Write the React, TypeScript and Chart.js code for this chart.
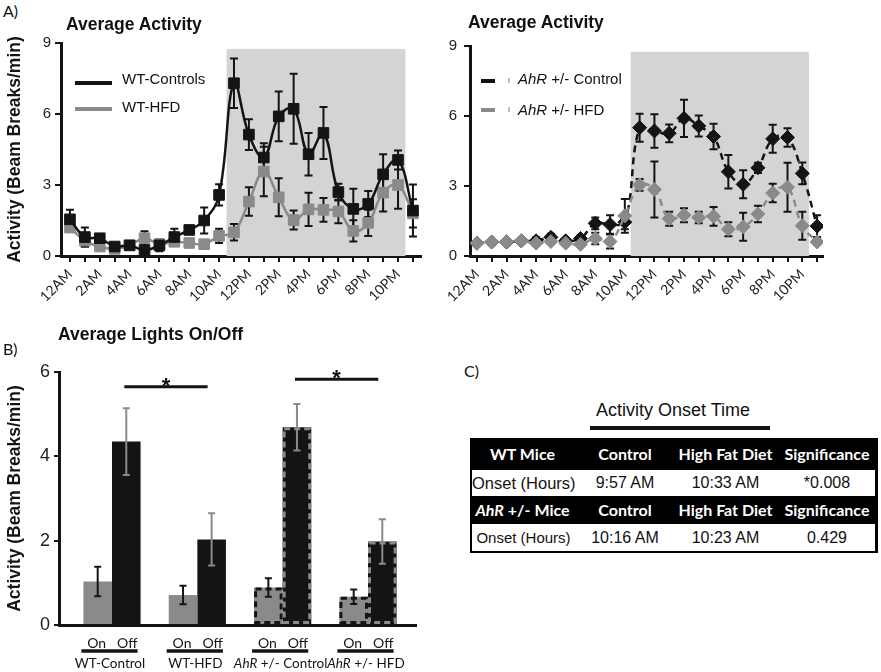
import React, { useEffect, useRef } from 'react';
import { Chart, registerables } from 'chart.js';
Chart.register(...registerables);

// ---------- DATA ----------
const HOUR_LABELS = ['12AM','1AM','2AM','3AM','4AM','5AM','6AM','7AM','8AM','9AM','10AM','11AM',
  '12PM','1PM','2PM','3PM','4PM','5PM','6PM','7PM','8PM','9PM','10PM','11PM'];

const WT_CONTROL = [1.55,0.8,0.75,0.4,0.45,0.25,0.45,0.8,1.1,1.5,2.58,7.3,5.13,4.16,5.9,6.22,4.3,5.2,2.7,1.99,2.2,3.45,4.06,1.92];
const WT_CONTROL_ERR = [0.4,0.4,0.12,0.1,0.1,0.15,0.25,0.35,0.15,0.55,0.45,1.05,0.65,0.6,1.05,1.48,0.9,1.1,0.35,0.85,0.55,0.85,0.4,1.1];
const WT_HFD = [1.2,0.65,0.4,0.3,0.45,0.75,0.5,0.6,0.55,0.5,0.85,1.0,2.3,3.57,2.48,1.52,1.97,1.95,1.88,1.06,1.4,2.68,3.0,1.8];
const WT_HFD_ERR = [0.1,0.25,0.1,0.1,0.1,0.3,0.15,0.15,0.15,0.1,0.3,0.35,0.6,1.05,0.8,0.4,0.7,0.5,0.5,0.45,0.55,0.8,1.0,0.6];

const AHR_CONTROL = [0.55,0.6,0.6,0.65,0.65,0.8,0.65,0.75,1.4,1.35,1.45,5.5,5.36,5.26,5.9,5.57,5.12,3.61,3.07,3.78,5.02,5.08,3.54,1.28];
const AHR_CONTROL_ERR = [0.08,0.08,0.08,0.1,0.15,0.15,0.1,0.12,0.25,0.4,0.3,0.6,0.72,0.38,0.8,0.45,0.55,0.72,0.6,0.22,0.6,0.4,0.47,0.47];
const AHR_HFD = [0.55,0.6,0.62,0.65,0.55,0.62,0.55,0.5,0.75,0.62,1.72,3.05,2.85,1.6,1.75,1.65,1.7,1.15,1.25,1.8,2.7,2.95,1.3,0.6];
const AHR_HFD_ERR = [0.05,0.05,0.05,0.05,0.1,0.1,0.08,0.08,0.25,0.3,0.72,0.25,1.2,0.3,0.3,0.25,0.4,0.3,0.6,0.35,0.4,1.05,0.6,0.08];

const LIGHTS_OFF_WT = [10.5, 22.5];
const LIGHTS_OFF_AHR = [10.4, 22.45];
const SHADE_TOP = 8.75;

const GROUP_LABELS = ['WT-Control','WT-HFD','AhR +/- Control','AhR +/- HFD'];
const ON_VALUES = [1.03,0.71,0.89,0.67];
const ON_ERR = [0.35,0.22,0.22,0.17];
const OFF_VALUES = [4.35,2.03,4.69,1.98];
const OFF_ERR = [0.79,0.62,0.55,0.53];
const SIG_LINES = [{ from: 0, to: 1, y: 5.65 }, { from: 2, to: 3, y: 5.83 }];

const TABLE_HEAD_WT = ['WT Mice','Control','High Fat Diet','Significance'];
const TABLE_ROW_WT = ['Onset (Hours)','9:57 AM','10:33 AM','*0.008'];
const TABLE_HEAD_AHR = ['AhR +/- Mice','Control','High Fat Diet','Significance'];
const TABLE_ROW_AHR = ['Onset (Hours)','10:16 AM','10:23 AM','0.429'];

// ---------- STYLE ----------
const BLACK = '#141414';
const GREY = '#8a8a8a';
const SHADE = '#d4d4d4';
const ARIAL = "'Liberation Sans', Arial, sans-serif";
const CALIBRI = "Lato, 'Open Sans', sans-serif";

function lineConfig(p: any) {
  const shadePlugin = {
    id: 'shade',
    beforeDatasetsDraw(chart: any) {
      const { ctx, scales: { x, y } } = chart;
      ctx.save();
      ctx.fillStyle = SHADE;
      const x0 = x.getPixelForValue(p.shade[0]);
      const x1 = x.getPixelForValue(p.shade[1]);
      const y0 = y.getPixelForValue(SHADE_TOP);
      const y1 = y.getPixelForValue(0);
      ctx.fillRect(x0, y0, x1 - x0, y1 - y0);
      // error bars (under the markers)
      ctx.strokeStyle = BLACK;
      ctx.lineWidth = 2;
      p.series.forEach((s: any) => {
        s.values.forEach((v: number, i: number) => {
          const e = s.err[i];
          const px = x.getPixelForValue(i);
          const t = y.getPixelForValue(v + e);
          const b = y.getPixelForValue(Math.max(v - e, 0));
          ctx.beginPath();
          ctx.moveTo(px, t); ctx.lineTo(px, b);
          ctx.moveTo(px - 4, t); ctx.lineTo(px + 4, t);
          ctx.moveTo(px - 4, b); ctx.lineTo(px + 4, b);
          ctx.stroke();
        });
      });
      ctx.restore();
    },
  };
  return {
    type: 'line',
    data: {
      datasets: p.series.map((s: any) => ({
        label: s.label,
        data: s.values.map((v: number, i: number) => ({ x: i, y: v })),
        borderColor: s.color,
        backgroundColor: s.color,
        pointBackgroundColor: s.color,
        pointBorderColor: s.color,
        pointBorderWidth: 1,
        pointStyle: p.pointStyle,
        pointRadius: p.radius,
        borderWidth: 2.5,
        borderDash: p.dash,
        tension: 0.4,
        order: s.order,
      })),
    },
    options: {
      responsive: false,
      animation: false,
      devicePixelRatio: 1,
      layout: { padding: p.padding },
      plugins: { legend: { display: false }, tooltip: { enabled: false }, title: { display: false } },
      scales: {
        x: {
          type: 'linear',
          offset: false,
          min: p.xMin,
          max: p.xMax,
          afterBuildTicks: (s: any) => { s.ticks = HOUR_LABELS.map((_, i) => ({ value: i })); },
          afterFit: (s: any) => { s.height = p.xHeight; },
          ticks: {
            autoSkip: false,
            maxRotation: 45,
            minRotation: 45,
            padding: 4,
            color: '#222',
            font: { family: CALIBRI, size: 14 },
            callback: (v: number) => (v % 2 === 0 ? HOUR_LABELS[v] : ''),
          },
          grid: { drawOnChartArea: false, drawTicks: true, tickLength: 6, color: BLACK, lineWidth: 2 },
          border: { display: true, width: 3, color: BLACK },
        },
        y: {
          min: 0,
          max: 9,
          afterFit: (s: any) => { s.width = p.yWidth; },
          ticks: { stepSize: 3, padding: p.yTickPad, color: '#222', font: { family: ARIAL, size: 15 } },
          grid: { drawOnChartArea: false, drawTicks: true, tickLength: 6, color: BLACK, lineWidth: 2 },
          border: { display: true, width: 3, color: BLACK },
          title: p.yTitle
            ? { display: true, text: p.yTitle, color: BLACK, font: { family: ARIAL, size: 17.5, weight: 'bold' }, padding: { top: 4.5, bottom: 0 } }
            : { display: false },
        },
      },
    },
    plugins: [shadePlugin],
  };
}

function barConfig() {
  const barPlugin = {
    id: 'barExtras',
    afterDatasetsDraw(chart: any) {
      const { ctx, scales: { y } } = chart;
      const onMeta = chart.getDatasetMeta(0);
      const offMeta = chart.getDatasetMeta(1);
      ctx.save();
      // dashed outlines for AhR groups
      [onMeta, offMeta].forEach((meta: any, di: number) => {
        meta.data.forEach((bar: any, i: number) => {
          if (!GROUP_LABELS[i].startsWith('AhR')) return;
          ctx.setLineDash([6, 4]);
          ctx.lineWidth = 3;
          ctx.strokeStyle = di === 0 ? BLACK : GREY;
          const l = bar.x - bar.width / 2 + 1.5;
          ctx.strokeRect(l, bar.y + 1.5, bar.width - 3, bar.base - bar.y - 3);
        });
      });
      ctx.setLineDash([]);
      // error bars
      const drawErr = (meta: any, vals: number[], errs: number[], color: string) => {
        ctx.strokeStyle = color;
        ctx.lineWidth = 2;
        meta.data.forEach((bar: any, i: number) => {
          const t = y.getPixelForValue(vals[i] + errs[i]);
          const b = y.getPixelForValue(vals[i] - errs[i]);
          ctx.beginPath();
          ctx.moveTo(bar.x, t); ctx.lineTo(bar.x, b);
          ctx.moveTo(bar.x - 3.5, t); ctx.lineTo(bar.x + 3.5, t);
          ctx.moveTo(bar.x - 3.5, b); ctx.lineTo(bar.x + 3.5, b);
          ctx.stroke();
        });
      };
      drawErr(onMeta, ON_VALUES, ON_ERR, BLACK);
      drawErr(offMeta, OFF_VALUES, OFF_ERR, GREY);
      // significance lines
      SIG_LINES.forEach((s) => {
        const x0 = offMeta.data[s.from].x - 2;
        const x1 = offMeta.data[s.to].x - 4;
        const py = y.getPixelForValue(s.y);
        ctx.strokeStyle = BLACK;
        ctx.lineWidth = 3;
        ctx.beginPath();
        ctx.moveTo(x0, py); ctx.lineTo(x1, py);
        ctx.stroke();
        ctx.fillStyle = BLACK;
        ctx.font = `bold 22px ${ARIAL}`;
        ctx.textAlign = 'center';
        ctx.textBaseline = 'alphabetic';
        ctx.fillText('*', (x0 + x1) / 2, py + 6);
      });
      ctx.restore();
    },
    afterDraw(chart: any) {
      const { ctx, scales: { x } } = chart;
      const onMeta = chart.getDatasetMeta(0);
      const offMeta = chart.getDatasetMeta(1);
      const base = x.top;
      ctx.save();
      ctx.fillStyle = BLACK;
      ctx.textBaseline = 'alphabetic';
      GROUP_LABELS.forEach((g, i) => {
        const on = onMeta.data[i];
        const off = offMeta.data[i];
        ctx.font = `14px ${CALIBRI}`;
        ctx.textAlign = 'center';
        ctx.fillText('On', on.x - 1, base + 23);
        ctx.fillText('Off', off.x + 1, base + 23);
        ctx.lineWidth = 3.5;
        ctx.strokeStyle = BLACK;
        ctx.beginPath();
        ctx.moveTo(on.x - on.width / 2 - 2, base + 26);
        ctx.lineTo(off.x + off.width / 2 - 3, base + 26);
        ctx.stroke();
        const cx = (on.x + off.x) / 2 - 2;
        const ly = base + 43;
        const fs = 13.5;
        if (g.startsWith('AhR')) {
          const rest = g.slice(3);
          ctx.font = `italic ${fs}px ${CALIBRI}`;
          const w1 = ctx.measureText('AhR').width;
          ctx.font = `${fs}px ${CALIBRI}`;
          const w2 = ctx.measureText(rest).width;
          const start = cx - (w1 + w2) / 2;
          ctx.textAlign = 'left';
          ctx.font = `italic ${fs}px ${CALIBRI}`;
          ctx.fillText('AhR', start, ly);
          ctx.font = `${fs}px ${CALIBRI}`;
          ctx.fillText(rest, start + w1, ly);
        } else {
          ctx.font = `${fs}px ${CALIBRI}`;
          ctx.textAlign = 'center';
          ctx.fillText(g, cx, ly);
        }
      });
      ctx.restore();
    },
  };
  const mk = (vals: number[]) => vals.map((v, i) => ({ x: i, y: v }));
  return {
    type: 'bar',
    data: {
      datasets: [
        { label: 'On', data: mk(ON_VALUES), backgroundColor: GREY, borderWidth: 0, categoryPercentage: 0.67, barPercentage: 1 },
        { label: 'Off', data: mk(OFF_VALUES), backgroundColor: BLACK, borderWidth: 0, categoryPercentage: 0.67, barPercentage: 1 },
      ],
    },
    options: {
      responsive: false,
      animation: false,
      devicePixelRatio: 1,
      layout: { padding: { top: 32, right: 24, left: 0, bottom: 0 } },
      plugins: { legend: { display: false }, tooltip: { enabled: false } },
      scales: {
        x: {
          type: 'linear',
          offset: false,
          min: -0.621,
          max: 3.5625,
          afterBuildTicks: (s: any) => { s.ticks = GROUP_LABELS.map((_, i) => ({ value: i })); },
          afterFit: (s: any) => { s.height = 47; },
          ticks: { display: false },
          grid: { display: false, offset: false },
          border: { display: true, width: 3, color: BLACK },
        },
        y: {
          min: 0,
          max: 6,
          afterFit: (s: any) => { s.width = 59; },
          ticks: { stepSize: 2, padding: 4, color: '#222', font: { family: ARIAL, size: 18 } },
          grid: { drawOnChartArea: false, drawTicks: true, tickLength: 5, color: BLACK, lineWidth: 2 },
          border: { display: true, width: 3, color: BLACK },
          title: { display: true, text: 'Activity (Beam Breaks/min)', color: BLACK, font: { family: ARIAL, size: 17.5, weight: 'bold' }, padding: { top: 4.5, bottom: 0 } },
        },
      },
    },
    plugins: [barPlugin],
  };
}

function ChartBox({ left, top, width, height, make }: any) {
  const ref = useRef<HTMLCanvasElement>(null);
  useEffect(() => {
    const chart = new Chart(ref.current as HTMLCanvasElement, make());
    return () => chart.destroy();
  }, []);
  return (
    <div style={{ position: 'absolute', left, top, width, height }}>
      <canvas ref={ref} width={width} height={height} style={{ display: 'block', width, height }} />
    </div>
  );
}

const ital = (s: string) => (s.startsWith('AhR') ? <><i>AhR</i>{s.slice(3)}</> : s);

function abs(left: number, top: number, extra: any = {}) {
  return { position: 'absolute' as const, left, top, whiteSpace: 'nowrap' as const, ...extra };
}

const COL_W = [105, 100, 101, 102];

function Row({ cells, header, top, height, firstSize }: any) {
  return (
    <div style={{ position: 'absolute', left: header ? 0 : 2, right: header ? 0 : 3, top, height, background: header ? '#000' : '#fff', display: 'flex' }}>
      {cells.map((c: string, i: number) => (
        <div key={i} style={{
          width: COL_W[i] - (header || i > 0 ? 0 : 2), flex: 'none', textAlign: 'center', lineHeight: `${height}px`,
          color: header ? '#fff' : '#111',
          fontFamily: header ? CALIBRI : ARIAL,
          fontWeight: header ? 'bold' : 'normal',
          fontSize: header ? 16 : (i === 0 ? firstSize : 16),
          whiteSpace: 'nowrap',
        }}>{ital(c)}</div>
      ))}
    </div>
  );
}

export default function App() {
  const wtCfg = () => lineConfig({
    series: [
      { label: 'WT-Controls', values: WT_CONTROL, err: WT_CONTROL_ERR, color: BLACK, order: 0 },
      { label: 'WT-HFD', values: WT_HFD, err: WT_HFD_ERR, color: GREY, order: 1 },
    ],
    pointStyle: 'rect', radius: 7.5, dash: [], shade: LIGHTS_OFF_WT,
    xMin: -0.6, xMax: 23.54, xHeight: 74, yWidth: 61, yTickPad: 4,
    yTitle: 'Activity (Beam Breaks/min)',
    padding: { top: 13, right: 19, left: 0, bottom: 0 },
  });
  const ahrCfg = () => lineConfig({
    series: [
      { label: 'AhR +/- Control', values: AHR_CONTROL, err: AHR_CONTROL_ERR, color: BLACK, order: 1 },
      { label: 'AhR +/- HFD', values: AHR_HFD, err: AHR_HFD_ERR, color: GREY, order: 0 },
    ],
    pointStyle: 'rectRot', radius: 7, dash: [7, 5], shade: LIGHTS_OFF_AHR,
    xMin: -0.47, xMax: 23.4, xHeight: 74, yWidth: 30, yTickPad: 7,
    yTitle: null,
    padding: { top: 13, right: 58, left: 0, bottom: 0 },
  });

  const letter = { fontFamily: CALIBRI, fontSize: 16, color: '#111', lineHeight: '18px' };
  const title = { fontFamily: ARIAL, fontSize: 17.5, fontWeight: 'bold', color: '#111', lineHeight: '20px' };
  const legendText = { fontFamily: ARIAL, fontSize: 15, color: '#111', lineHeight: '18px' };

  return (
    <div style={{ position: 'absolute', left: 0, top: 0, width: 881, height: 672, background: '#fff', overflow: 'hidden' }}>
      <ChartBox left={0} top={30} width={440} height={300} make={wtCfg} />
      <ChartBox left={440} top={30} width={441} height={300} make={ahrCfg} />
      <ChartBox left={0} top={340} width={440} height={332} make={barConfig} />

      <div style={abs(3, 2, letter)}>A)</div>
      <div style={abs(3, 340, letter)}>B)</div>
      <div style={abs(464, 362, letter)}>C)</div>

      <div style={abs(66, 14, title)}>Average Activity</div>
      <div style={abs(468, 12, title)}>Average Activity</div>
      <div style={abs(58, 324, title)}>Average Lights On/Off</div>

      {/* legend WT */}
      <div style={abs(75, 81, { width: 37, height: 4, background: BLACK })} />
      <div style={abs(122, 70, legendText)}>WT-Controls</div>
      <div style={abs(75, 107, { width: 37, height: 4, background: GREY })} />
      <div style={abs(122, 98, legendText)}>WT-HFD</div>

      {/* legend AhR */}
      <div style={abs(481, 79, { width: 14, height: 4, background: BLACK })} />
      <div style={abs(508, 78, { width: 1.5, height: 5, background: '#bbb' })} />
      <div style={abs(518, 70, legendText)}><i>AhR</i> +/- Control</div>
      <div style={abs(481, 108, { width: 14, height: 4, background: GREY })} />
      <div style={abs(508, 107, { width: 1.5, height: 5, background: '#bbb' })} />
      <div style={abs(518, 101, legendText)}><i>AhR</i> +/- HFD</div>

      {/* table C */}
      <div style={abs(573, 399, { width: 200, textAlign: 'center', fontFamily: ARIAL, fontSize: 18, color: '#111', lineHeight: '22px' })}>Activity Onset Time</div>
      <div style={abs(590, 426, { width: 180, height: 4, background: BLACK })} />
      <div style={abs(470, 438, { width: 408, height: 115, background: '#000' })}>
        <Row cells={TABLE_HEAD_WT} header top={0} height={32} />
        <Row cells={TABLE_ROW_WT} top={32} height={26} firstSize={16.5} />
        <Row cells={TABLE_HEAD_AHR} header top={58} height={28} />
        <Row cells={TABLE_ROW_AHR} top={86} height={27} firstSize={15} />
      </div>
    </div>
  );
}
